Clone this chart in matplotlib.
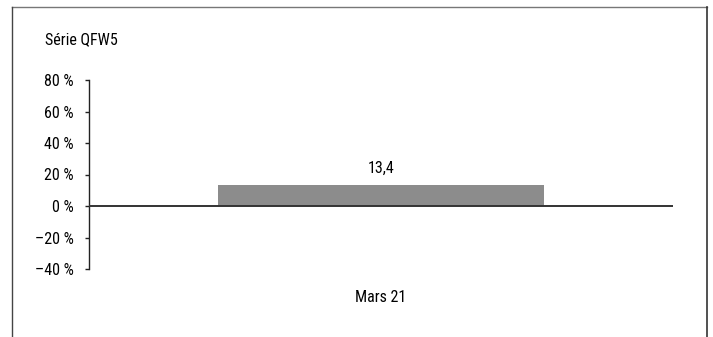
import matplotlib
matplotlib.use("Agg")
import matplotlib.pyplot as plt
from matplotlib.lines import Line2D

categories = ["Mars 21"]
values = [13.4]
value_labels = ["13,4"]
yticks = [-40, -20, 0, 20, 40, 60, 80]
ytick_labels = ["–40 %", "–20 %", "0 %", "20 %", "40 %", "60 %", "80 %"]
title = "Série QFW5"

plt.rcParams['font.family'] = ['Roboto Condensed', 'DejaVu Sans']
fs = 11.5

W, H = 713, 337
fig = plt.figure(figsize=(W / 100, H / 100), dpi=100)
ax = fig.add_axes([89 / W, 1 - 269 / H, (673 - 89) / W, (269 - 80) / H])

x = [0.5]
ax.bar(x, values, width=0.557, color="#8c8c8c", zorder=2)
for xi, v, lab in zip(x, values, value_labels):
    ax.text(xi, v + 6, lab, ha="center", va="bottom", fontsize=fs)

ax.axhline(0, color="#333333", lw=1.4, zorder=3)
ax.set_xlim(0, 1)
ax.set_ylim(-40, 80)
ax.set_yticks(yticks)
ax.set_yticklabels(ytick_labels, fontsize=fs)
ax.set_xticks(x)
ax.set_xticklabels(categories, fontsize=fs)
ax.tick_params(axis="x", length=0, pad=15)
ax.tick_params(axis="y", length=3, width=1, pad=8, color="#222222")
for s in ["top", "right", "bottom"]:
    ax.spines[s].set_visible(False)
ax.spines["left"].set_color("#222222")
ax.spines["left"].set_linewidth(1)

fig.text(45 / W, 1 - 40 / H, title, ha="left", va="center", fontsize=fs)

# outer frame
fx0, fx1, fy = 12 / W, 707 / W, 1 - 7 / H
fig.add_artist(Line2D([fx0, fx1], [fy, fy], color="#777777", lw=1))
fig.add_artist(Line2D([fx0, fx0], [0, fy], color="#444444", lw=1))
fig.add_artist(Line2D([fx1, fx1], [0, fy], color="#333333", lw=1.2))

fig.savefig("out.png", dpi=100)
